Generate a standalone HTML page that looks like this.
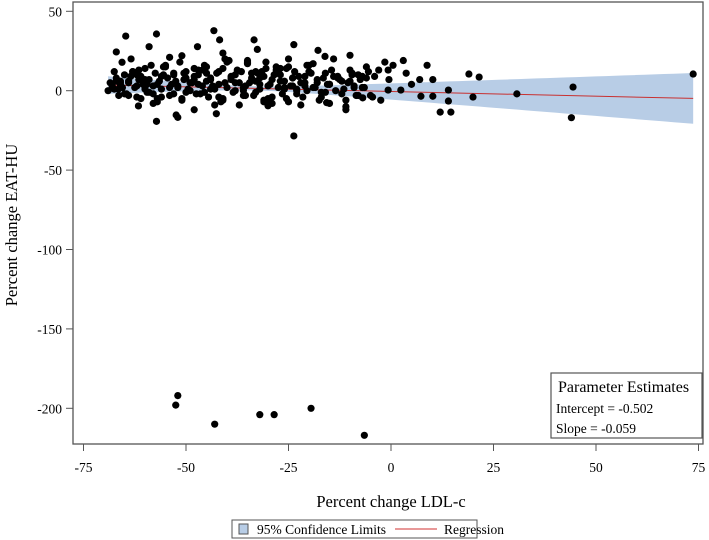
<!DOCTYPE html>
<html><head><meta charset="utf-8"><style>
html,body{margin:0;padding:0;background:#fff;}
svg{display:block;font-family:"Liberation Serif",serif;}
</style></head><body>
<svg id="chart" width="709" height="540">
<g id="band-layer"></g>
<g id="line-layer"></g>
<g id="pts-layer"></g>
<rect x="73" y="2" width="630" height="442" fill="none" stroke="#555" stroke-width="1.3"/>
<g id="axis-layer"></g>
<text x="391" y="507" font-size="16.5" text-anchor="middle">Percent change LDL-c</text>
<text transform="translate(17,225) rotate(-90)" font-size="16.5" text-anchor="middle">Percent change EAT-HU</text>
<g>
<rect x="551" y="373" width="151" height="65" fill="#fff" stroke="#555" stroke-width="1.2"/>
<text x="558" y="392" font-size="16">Parameter Estimates</text>
<text x="556" y="413" font-size="13.5">Intercept = -0.502</text>
<text x="556" y="433" font-size="13.5">Slope = -0.059</text>
</g>
<g>
<rect x="232" y="520" width="245" height="18" fill="#fff" stroke="#555" stroke-width="1"/>
<rect x="239" y="524" width="9" height="10" fill="#b8cde6" stroke="#555" stroke-width="1"/>
<text x="257" y="534" font-size="13.5">95% Confidence Limits</text>
<line x1="395" y1="529" x2="437" y2="529" stroke="#d03030" stroke-width="1"/>
<text x="444" y="534" font-size="13.5">Regression</text>
</g>
</svg>
<script>
const xTicks=[-75,-50,-25,0,25,50,75];
const yTicks=[50,0,-50,-100,-150,-200];
const intercept=-0.502;
const slope=-0.059;
const xs=[-52,-52.5,-43,-32,-28.5,-19.5,-6.5,
-1.5,0.5,3,3.7,-0.7,-0.5,-0.7,2.4,5,7,8.8,10.2,7.3,10.2,14,14,12,14.6,19,21.5,20,30.7,44.4,44,73.7,
-64.7,-57.2,-43.2,-41.8,-59,-67,-47.2,-33.4,-32.6,-23.7,-17.8,-16.1,-10,-41,-63.4,-65.6,
-57.2,-61.6,-52.4,-52,-48,-42.6,-23.7,-11,-30,-25,-15.7,-6.9,-31,-66.4,
-69,-68,-67,-66.5,-66,-65,-64.5,-64,-63,-62.5,-62,-61,-60.5,-60,-59.5,-59,-58,-57.5,-57,-56.5,-56,-55,-54.5,-54,-53.5,-53,-52,-51.5,-51,-50.5,-50,-49,-48.5,-48,-47.5,-47,-46,-45.5,-45,-44.5,-44,-43,-42.5,-42,-41.5,-41,-40,-39.5,-39,-38.5,-38,-37,-36.5,-36,-35.5,-35,-34,-33.5,-33,-32.5,-32,-31,-30.5,-30,-29.5,-29,-28,-27.5,-27,-26.5,-26,-25,-24.5,-24,-23.5,-23,-22,-21.5,-21,-20,-19,-18,-17,-16,-15,-14,-13,-12,-11,-10,-9,-8,-7,-6,-5,-4,
-68.5,-67.5,-66,-65.5,-64,-63.5,-62,-61.5,-60,-59,-58.5,-57,-56,-55.5,-54,-53,-52.5,-51,-50,-49.5,-48,-47,-46.5,-45,-44,-43.5,-42,-41,-40.5,-39,-38,-37.5,-36,-35,-34.5,-33,-32,-31.5,-30,-29,-28.5,-27,-26,-25.5,-24,-23,-22.5,-21,-20.5,-19.5,-18.5,-17.5,-16.5,-15.5,-14.5,-13.5,-12.5,-11.5,-10.5,-9.5,-8.5,-7.5,-6.5,-5.5,
-67,-65,-63,-61,-59.5,-58,-56,-54,-52,-50,-48,-46,-44,-42,-40,-38,-36,-34,-32,-30,-28,-26,-24,-22,-20,-18,-16,-14,-12,-10,-8,-6,
-66,-62,-58,-55,-51,-47,-43,-39,-35,-31,-27,-23,-19,-15,-11,-7,-3,
-64,-60,-57,-53,-49,-45,-41,-37,-33,-29,-25,-21,-17,-13,-9,-2.5,
-67.5,-61.5,-55.5,-50.5,-45.5,-40.5,-35.5,-30.5,-25.5,-20.5,-15,-9.5,-4.5];
const ys=[-192,-198,-210,-204,-204,-200,-217,
18,16,19,11,13,7,0.4,0.4,4,7,16,7,-3.5,-3.5,0.4,-6.5,-13.5,-13.5,10.5,8.6,-4,-2,2.3,-17,10.5,
34.4,35.7,37.8,32,27.7,24.4,27.7,32,26,29,25.4,21.6,22.3,23.7,20,17.9,
-19.3,-9.6,-15.3,-16.8,-12,-14.5,-28.5,-12,-9.5,-7,-7.5,-4.5,-7,-3,
0,3,8,1,5,10,-2,6,12,2,-4,9,4,14,-1,7,3,11,-5,6,1,15,8,-3,4,10,2,18,-6,7,12,0,5,9,-2,13,3,16,6,-4,8,1,11,4,-7,14,2,19,7,-1,10,5,12,0,3,17,8,-3,6,11,1,9,14,-5,4,7,13,2,10,-2,6,15,3,8,12,0,5,-4,9,16,2,7,-1,11,4,20,8,6,-6,13,3,10,2,15,-3,9,5,12,
6,2,-3,9,3,13,7,-1,16,4,-4,10,2,11,6,-5,8,1,14,4,-2,11,7,3,12,-6,5,9,0,13,2,18,5,-1,8,12,3,-4,10,6,1,14,3,-2,9,5,0,11,2,-6,8,4,13,0,7,1,5,10,-3,7,2,12,6,-2,
12,-5,4,-8,9,21,3,-1,7,13,1,-4,18,5,-3,11,4,-6,15,2,8,-9,12,5,-1,9,-2,6,-3,8,4,10,
-2,16,22,10,-9,8,19,-6,14,1,17,4,-10,9,13,5,1,
-7,-2,5,15,-5,-9,12,-8,20,3,-4,9,2,-6,1,7,
15,11,-1,20,-3,18,-5,16,-8,11,-4,13,10];
const px=x=>391+4.1*x;
const py=y=>90.7-1.588*y;
const NS='http://www.w3.org/2000/svg';
const band=document.getElementById('band-layer'),line=document.getElementById('line-layer'),pts=document.getElementById('pts-layer'),ax=document.getElementById('axis-layer');
const xmin=Math.min(...xs),xmax=Math.max(...xs);
const mx=xs.reduce((a,b)=>a+b,0)/xs.length;
let up=[],lo=[];
for(let i=0;i<=60;i++){const x=xmin+(xmax-xmin)*i/60;const yh=intercept+slope*x;const h=Math.sqrt(1.7+0.0222*(x-mx)*(x-mx));up.push(px(x)+','+py(yh+h));lo.unshift(px(x)+','+py(yh-h));}
const poly=document.createElementNS(NS,'polygon');
poly.setAttribute('points',up.concat(lo).join(' '));
poly.setAttribute('fill','#b8cde6');


band.appendChild(poly);
const rl=document.createElementNS(NS,'line');
rl.setAttribute('x1',px(xmin));rl.setAttribute('x2',px(xmax));
rl.setAttribute('y1',py(intercept+slope*xmin));rl.setAttribute('y2',py(intercept+slope*xmax));
rl.setAttribute('stroke','#c83030');rl.setAttribute('stroke-width','1');


line.appendChild(rl);
for(let i=0;i<xs.length;i++){const c=document.createElementNS(NS,'circle');
c.setAttribute('cx',px(xs[i]));c.setAttribute('cy',py(ys[i]));c.setAttribute('r','3.6');c.setAttribute('fill','#000');


pts.appendChild(c);}
xTicks.forEach(t=>{const l=document.createElementNS(NS,'line');l.setAttribute('x1',px(t));l.setAttribute('x2',px(t));l.setAttribute('y1',444);l.setAttribute('y2',451);l.setAttribute('stroke','#555');


ax.appendChild(l);
const tx=document.createElementNS(NS,'text');tx.setAttribute('x',px(t));tx.setAttribute('y',472);tx.setAttribute('font-size','13.5');tx.setAttribute('text-anchor','middle');tx.textContent=t;


ax.appendChild(tx);});
yTicks.forEach(t=>{const l=document.createElementNS(NS,'line');l.setAttribute('x1',66);l.setAttribute('x2',73);l.setAttribute('y1',py(t));l.setAttribute('y2',py(t));l.setAttribute('stroke','#555');


ax.appendChild(l);
const tx=document.createElementNS(NS,'text');tx.setAttribute('x',62);tx.setAttribute('y',py(t)+5);tx.setAttribute('font-size','13.5');tx.setAttribute('text-anchor','end');tx.textContent=t;


ax.appendChild(tx);});
</script>
</body></html>
